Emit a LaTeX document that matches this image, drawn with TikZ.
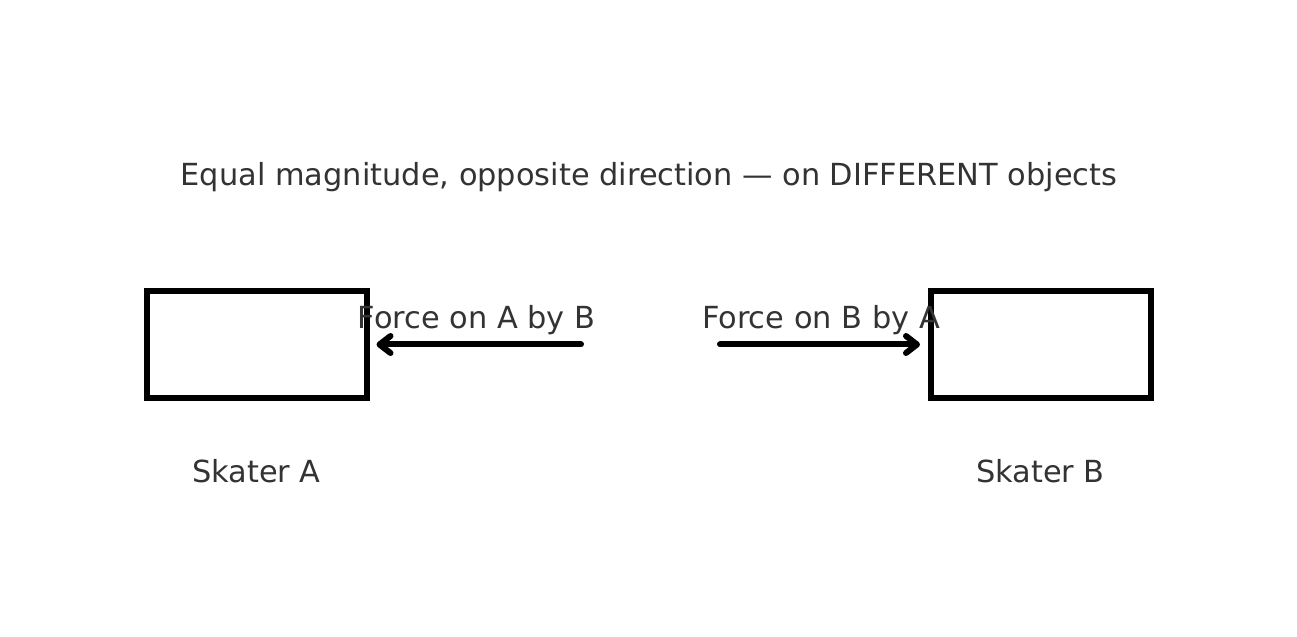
\documentclass[tikz,border=0pt]{standalone}
\usepackage{fontspec}
\setmainfont{DejaVu Sans}
\usetikzlibrary{arrows.meta, positioning}

\definecolor{txtgray}{RGB}{51,51,51}

\begin{document}
\begin{tikzpicture}[
    skater/.style = {
        draw,
        line width=0.12cm,
        minimum width=4.4cm,
        minimum height=2.14cm,
        inner sep=0pt
    },
    lbl/.style = {
        text=txtgray,
        font=\fontsize{17.3}{20}\selectfont,
        inner sep=0pt
    },
    force/.style = {
        -{Straight Barb[length=0.22cm, width=0.34cm, line cap=round, line join=round]},
        line width=0.12cm,
        line cap=round
    }
]

%% ── Marco ───────────────────────────────────────────────────────────────────

\useasboundingbox (0,0) rectangle (25.94,-12.74);

%% ── Nodos ───────────────────────────────────────────────────────────────────

\node[lbl] (title) at (12.98,-3.54)
    {Equal magnitude, opposite direction — on DIFFERENT objects};

\node[skater] (skA) at (5.14,-6.89) {};
\node[skater] (skB) at (20.82,-6.89) {};

\node[lbl] (nameA) at (5.13,-9.42) {Skater A};
\node[lbl] (nameB) at (20.81,-9.42) {Skater B};

\coordinate (fromA) at (11.62,-6.89);
\coordinate (fromB) at (14.40,-6.89);

%% ── Flechas ─────────────────────────────────────────────────────────────────

\draw[force, shorten >=0.13cm] (fromA) -- (skA.east);
\draw[force, shorten >=0.16cm] (fromB) -- (skB.west);

%% ── Etiquetas de las fuerzas ────────────────────────────────────────────────

\node[lbl] (fAB) at (9.53,-6.40) {Force on A by B};
\node[lbl] (fBA) at (16.42,-6.40) {Force on B by A};

\end{tikzpicture}
\end{document}
